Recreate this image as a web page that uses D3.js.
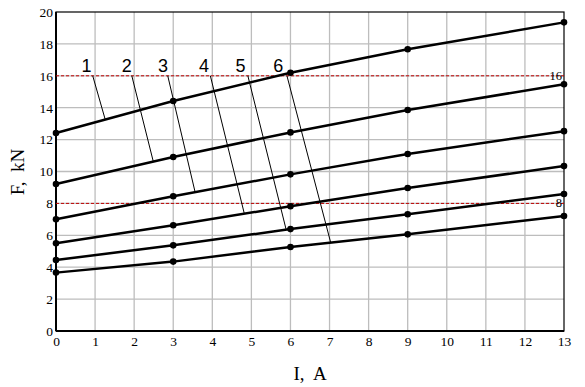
<!DOCTYPE html>
<html><head><meta charset="utf-8">
<script src="https://cdn.jsdelivr.net/npm/d3@7"></script>
<style>body{margin:0;background:#fff}svg{display:block}text{white-space:pre}</style>
</head><body>
<script>
const currents = [0, 3, 6, 9, 13];
const force1 = [12.41, 14.42, 16.19, 17.66, 19.35];
const force2 = [9.22, 10.91, 12.45, 13.86, 15.47];
const force3 = [7.0, 8.45, 9.82, 11.1, 12.53];
const force4 = [5.5, 6.63, 7.82, 8.97, 10.34];
const force5 = [4.45, 5.37, 6.39, 7.32, 8.59];
const force6 = [3.66, 4.35, 5.27, 6.06, 7.21];
const curveNames = ["1", "2", "3", "4", "5", "6"];
const labelI = [0.78, 1.81, 2.74, 3.79, 4.72, 5.69];
const leaderStartI = [0.94, 1.94, 2.86, 3.95, 4.91, 5.91];
const leaderEndI = [1.26, 2.49, 3.56, 4.82, 5.89, 7.03];
const refLevels = [16, 8];
const xTicks = d3.range(0, 14, 1);
const yTicks = d3.range(0, 21, 2);

const series = [force1, force2, force3, force4, force5, force6];
const W = 585, H = 387;
const m = {l: 56, r: 21, t: 12, b: 56};
const svg = d3.select("body").append("svg").attr("width", W).attr("height", H);
const x = d3.scaleLinear().domain([0, 13]).range([m.l, W - m.r]);
const y = d3.scaleLinear().domain([0, 20]).range([H - m.b, m.t]);

// grid
svg.append("g").selectAll("line").data(xTicks.slice(1, -1)).join("line")
  .attr("x1", d => x(d)).attr("x2", d => x(d)).attr("y1", y(0)).attr("y2", y(20))
  .attr("stroke", "#bdbdbd").attr("stroke-width", 1.3);
svg.append("g").selectAll("line").data(yTicks.slice(1, -1)).join("line")
  .attr("y1", d => y(d)).attr("y2", d => y(d)).attr("x1", x(0)).attr("x2", x(13))
  .attr("stroke", "#bdbdbd").attr("stroke-width", 1.3);

// frame
svg.append("rect").attr("x", x(0)).attr("y", y(20)).attr("width", x(13) - x(0)).attr("height", y(0) - y(20))
  .attr("fill", "none").attr("stroke", "#000").attr("stroke-width", 1.2);
svg.append("line").attr("x1", x(0)).attr("x2", x(13)).attr("y1", y(0)).attr("y2", y(0)).attr("stroke", "#000").attr("stroke-width", 2);
svg.append("line").attr("x1", x(0)).attr("x2", x(0)).attr("y1", y(0)).attr("y2", y(20)).attr("stroke", "#000").attr("stroke-width", 2);

// axes (tick labels)
const serif = "'Liberation Serif','Times New Roman',serif";
const xAxis = svg.append("g").attr("transform", `translate(0,${y(0)})`)
  .call(d3.axisBottom(x).tickValues(xTicks).tickSize(0).tickPadding(5).tickFormat(d3.format("d")));
xAxis.select(".domain").remove();
xAxis.attr("font-family", serif).attr("font-size", 13.5);
xAxis.selectAll("text").style("font-family", serif).attr("fill", "#000");
const yAxis = svg.append("g").attr("transform", `translate(${x(0)},0)`)
  .call(d3.axisLeft(y).tickValues(yTicks).tickSize(0).tickPadding(3).tickFormat(d3.format("d")));
yAxis.select(".domain").remove();
yAxis.attr("font-family", serif).attr("font-size", 13.5);
yAxis.selectAll("text").style("font-family", serif).attr("fill", "#000");

// reference dashed lines
refLevels.forEach(v => {
  svg.append("line").attr("x1", x(0)).attr("x2", x(13)).attr("y1", y(v)).attr("y2", y(v))
    .attr("stroke", "#c00000").attr("stroke-width", 1).attr("stroke-dasharray", "3,2");
  svg.append("text").attr("x", x(13) - 2).attr("y", y(v) + 4).attr("text-anchor", "end")
    .style("font-family", serif).attr("font-size", 12.5).attr("fill", "#000").text(v);
});

// curves
const line = d3.line().x(d => x(d[0])).y(d => y(d[1])).curve(d3.curveLinear);
series.forEach(s => {
  const pts = currents.map((c, i) => [c, s[i]]);
  svg.append("path").attr("d", line(pts)).attr("fill", "none").attr("stroke", "#000").attr("stroke-width", 2.5);
  svg.append("g").selectAll("circle").data(pts).join("circle")
    .attr("cx", d => x(d[0])).attr("cy", d => y(d[1])).attr("r", 3.3).attr("fill", "#000");
});

function valAt(s, c) {
  return d3.scaleLinear().domain(currents).range(s)(c);
}

// leaders and labels
curveNames.forEach((n, i) => {
  svg.append("line")
    .attr("x1", x(leaderStartI[i])).attr("y1", y(16))
    .attr("x2", x(leaderEndI[i])).attr("y2", y(valAt(series[i], leaderEndI[i])))
    .attr("stroke", "#000").attr("stroke-width", 1);
  svg.append("text").attr("x", x(labelI[i])).attr("y", y(16) - 4).attr("text-anchor", "middle")
    .style("font-family", "'Liberation Sans',Arial,sans-serif").attr("font-size", 18).attr("fill", "#000").text(n);
});

// axis titles
svg.append("text").attr("x", 310).attr("y", 380).attr("text-anchor", "middle")
  .style("font-family", serif).attr("font-size", 19).attr("fill", "#000").text("I,  A");
svg.append("text").attr("transform", `translate(24,172) rotate(-90)`).attr("text-anchor", "middle")
  .style("font-family", serif).attr("font-size", 19).attr("fill", "#000").text("F,  kN");
</script>
</body></html>
